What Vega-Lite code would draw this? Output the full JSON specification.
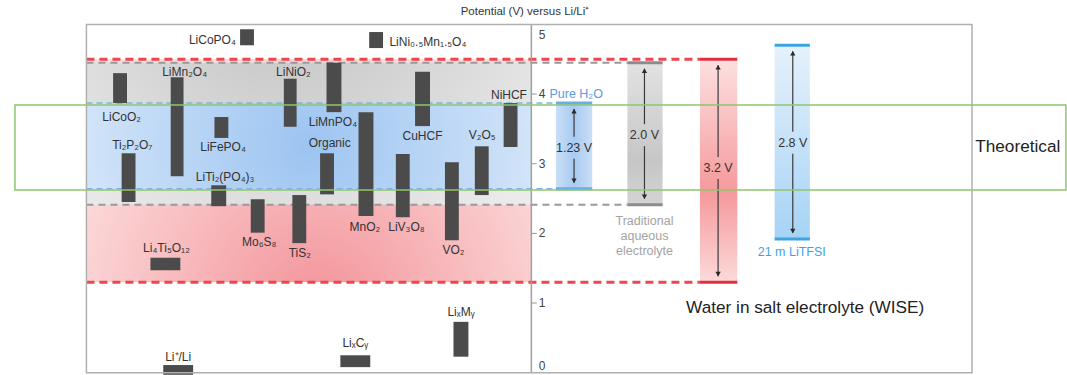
{
"$schema": "https://vega.github.io/schema/vega-lite/v6.json",
"width": 1067, "height": 375, "padding": 0, "autosize": {"type": "none"},
"background": "white",
"config": {"view": {"stroke": null}, "font": "Liberation Sans"},
"datasets": {
 "materials": [
  {"m":"LiCoPO₄","x0":22.5,"x1":23.8,"lo":4.70,"hi":4.93,"lx":19.9,"ly":4.78},
  {"m":"LiNi₀.₅Mn₁.₅O₄","x0":34.6,"x1":35.9,"lo":4.66,"hi":4.89,"lx":40.1,"ly":4.75},
  {"m":"LiCoO₂","x0":10.6,"x1":11.9,"lo":3.87,"hi":4.30,"lx":11.4,"ly":3.67},
  {"m":"LiMn₂O₄","x0":16.0,"x1":17.2,"lo":2.82,"hi":4.24,"lx":17.3,"ly":4.32},
  {"m":"LiNiO₂","x0":26.6,"x1":27.8,"lo":3.53,"hi":4.22,"lx":27.5,"ly":4.32},
  {"m":"LiMnPO₄","x0":30.6,"x1":32.0,"lo":3.74,"hi":4.45,"lx":31.2,"ly":3.60},
  {"m":"CuHCF","x0":38.9,"x1":40.3,"lo":3.54,"hi":4.32,"lx":39.6,"ly":3.40},
  {"m":"NiHCF","x0":47.2,"x1":48.5,"lo":3.24,"hi":3.87,"lx":47.7,"ly":3.99},
  {"m":"LiFePO₄","x0":20.1,"x1":21.4,"lo":3.37,"hi":3.67,"lx":20.9,"ly":3.24},
  {"m":"Ti₂P₂O₇","x0":11.4,"x1":12.7,"lo":2.45,"hi":3.15,"lx":12.4,"ly":3.27},
  {"m":"LiTi₂(PO₄)₃","x0":19.8,"x1":21.2,"lo":2.39,"hi":2.69,"lx":21.1,"ly":2.81},
  {"m":"Organic","x0":30.0,"x1":31.3,"lo":2.56,"hi":3.15,"lx":30.9,"ly":3.30},
  {"m":"MnO₂","x0":33.6,"x1":35.0,"lo":2.25,"hi":3.74,"lx":34.2,"ly":2.09},
  {"m":"LiV₃O₈","x0":37.1,"x1":38.4,"lo":2.23,"hi":3.14,"lx":38.1,"ly":2.09},
  {"m":"VO₂","x0":41.7,"x1":43.0,"lo":1.90,"hi":3.02,"lx":42.5,"ly":1.76},
  {"m":"V₂O₅","x0":44.5,"x1":45.8,"lo":2.55,"hi":3.25,"lx":45.2,"ly":3.41},
  {"m":"Mo₆S₈","x0":23.5,"x1":24.8,"lo":2.01,"hi":2.49,"lx":24.3,"ly":1.88},
  {"m":"TiS₂","x0":27.4,"x1":28.7,"lo":1.86,"hi":2.55,"lx":28.1,"ly":1.72},
  {"m":"Li₄Ti₅O₁₂","x0":14.1,"x1":16.9,"lo":1.47,"hi":1.65,"lx":15.6,"ly":1.79},
  {"m":"Li⁺/Li","x0":15.3,"x1":18.1,"lo":-0.03,"hi":0.11,"lx":16.7,"ly":0.22},
  {"m":"LiₓCᵧ","x0":31.9,"x1":34.7,"lo":0.08,"hi":0.25,"lx":33.3,"ly":0.43},
  {"m":"LiₓMᵧ","x0":42.5,"x1":43.9,"lo":0.23,"hi":0.73,"lx":43.2,"ly":0.87}
 ],
 "windows": [
  {"w":"Pure","xa":52.1,"xb":55.5,"xc":53.8,"lo":2.64,"hi":3.87,"mid":3.23,"gap":"1.23 V"},
  {"w":"Traditional","xa":58.8,"xb":62.1,"xc":60.4,"lo":2.41,"hi":4.45,"mid":3.41,"gap":"2.0 V"},
  {"w":"WISE","xa":65.6,"xb":69.1,"xc":67.3,"lo":1.30,"hi":4.50,"mid":2.94,"gap":"3.2 V"},
  {"w":"LiTFSI","xa":72.6,"xb":75.9,"xc":74.3,"lo":1.92,"hi":4.70,"mid":3.30,"gap":"2.8 V"}
 ],
 "bands": [
  {"w":"WISE","x0":8.1,"x1":49.8,"lo":1.30,"hi":4.50},
  {"w":"Traditional","x0":8.1,"x1":49.8,"lo":2.41,"hi":4.45},
  {"w":"Pure","x0":8.1,"x1":49.8,"lo":2.64,"hi":3.87}
 ],
 "limits": [
  {"w":"WISE","x0":8.1,"x1":65.6,"v":4.50},
  {"w":"WISE","x0":8.1,"x1":65.6,"v":1.30},
  {"w":"Traditional","x0":8.1,"x1":58.8,"v":4.45},
  {"w":"Traditional","x0":8.1,"x1":58.8,"v":2.41},
  {"w":"Pure","x0":8.1,"x1":52.1,"v":3.87},
  {"w":"Pure","x0":8.1,"x1":52.1,"v":2.64}
 ],
 "captions": [
  {"w":"Pure","c":"Pure H₂O","cx":54.0,"cy":4.0},
  {"w":"Traditional","c":["Traditional","aqueous","electrolyte"],"cx":60.4,"cy":2.18},
  {"w":"LiTFSI","c":"21 m LiTFSI","cx":74.2,"cy":1.73}
 ],
 "frame": [{"x0":8.1,"x1":91.1,"lo":0,"hi":5,"ax":49.8}],
 "ticks": [
  {"t":"1","v":1,"x0":49.85,"x1":50.3,"lx":50.5},
  {"t":"2","v":2,"x0":49.85,"x1":50.3,"lx":50.5},
  {"t":"3","v":3,"x0":49.85,"x1":50.3,"lx":50.5},
  {"t":"4","v":4,"x0":49.85,"x1":50.3,"lx":50.5}
 ],
 "box": [{"x0":1.4,"x1":99.9,"lo":2.622,"hi":3.842}],
 "notes": [
  {"t":"Potential (V) versus Li/Li⁺","x":49.2,"v":5.18,"k":"title"},
  {"t":"5","x":50.5,"v":4.85,"k":"tick"},
  {"t":"0","x":50.5,"v":0.09,"k":"tick"},
  {"t":"Theoretical","x":91.4,"v":3.24,"k":"note"},
  {"t":"Water in salt electrolyte (WISE)","x":64.3,"v":0.93,"k":"note"}
 ]
},
"layer": [
 {"data":{"name":"bands"},"transform":[{"filter":"datum.w==='WISE'"}],
  "mark":{"type":"rect","fill":{"gradient":"radial","x1":0.52,"y1":0.8,"x2":0.52,"y2":0.8,"r1":0,"r2":0.6,"stops":[{"offset":0,"color":"#f3949a"},{"offset":1,"color":"#fcdcdc"}]}},
  "encoding":{"x":{"field":"x0","type":"quantitative","scale":{"domain":[0,100],"nice":false,"zero":false},"axis":null},"x2":{"field":"x1"},
   "y":{"field":"hi","type":"quantitative","scale":{"domain":[-0.033,5.35],"nice":false,"zero":false},"axis":null},"y2":{"field":"lo"}}},
 {"data":{"name":"bands"},"transform":[{"filter":"datum.w==='Traditional'"}],
  "mark":{"type":"rect","fill":{"gradient":"radial","x1":0.45,"y1":0.15,"x2":0.45,"y2":0.15,"r1":0,"r2":0.7,"stops":[{"offset":0,"color":"#c0c0c0"},{"offset":1,"color":"#ebebeb"}]}},
  "encoding":{"x":{"field":"x0","type":"quantitative","axis":null},"x2":{"field":"x1"},"y":{"field":"hi","type":"quantitative","axis":null},"y2":{"field":"lo"}}},
 {"data":{"name":"bands"},"transform":[{"filter":"datum.w==='Pure'"}],
  "mark":{"type":"rect","fill":{"gradient":"radial","x1":0.5,"y1":0.5,"x2":0.5,"y2":0.5,"r1":0,"r2":0.65,"stops":[{"offset":0,"color":"#9cc4f1"},{"offset":1,"color":"#e1edfa"}]}},
  "encoding":{"x":{"field":"x0","type":"quantitative","axis":null},"x2":{"field":"x1"},"y":{"field":"hi","type":"quantitative","axis":null},"y2":{"field":"lo"}}},
 {"data":{"name":"windows"},"transform":[{"filter":"datum.w==='Pure'"}],
  "mark":{"type":"rect","fill":{"gradient":"linear","x1":0,"y1":0,"x2":1,"y2":0,"stops":[{"offset":0,"color":"#c9dff6"},{"offset":0.5,"color":"#a8caf1"},{"offset":1,"color":"#c9dff6"}]}},
  "encoding":{"x":{"field":"xa","type":"quantitative","axis":null},"x2":{"field":"xb"},"y":{"field":"hi","type":"quantitative","axis":null},"y2":{"field":"lo"}}},
 {"data":{"name":"windows"},"transform":[{"filter":"datum.w==='Traditional'"}],
  "mark":{"type":"rect","fill":{"gradient":"linear","x1":0,"y1":0,"x2":0,"y2":1,"stops":[{"offset":0,"color":"#e2e2e2"},{"offset":0.7,"color":"#c6c6c6"},{"offset":1,"color":"#d4d4d4"}]}},
  "encoding":{"x":{"field":"xa","type":"quantitative","axis":null},"x2":{"field":"xb"},"y":{"field":"hi","type":"quantitative","axis":null},"y2":{"field":"lo"}}},
 {"data":{"name":"windows"},"transform":[{"filter":"datum.w==='WISE'"}],
  "mark":{"type":"rect","fill":{"gradient":"linear","x1":0,"y1":0,"x2":0,"y2":1,"stops":[{"offset":0,"color":"#fde0e0"},{"offset":0.6,"color":"#f5999c"},{"offset":1,"color":"#fcdada"}]}},
  "encoding":{"x":{"field":"xa","type":"quantitative","axis":null},"x2":{"field":"xb"},"y":{"field":"hi","type":"quantitative","axis":null},"y2":{"field":"lo"}}},
 {"data":{"name":"windows"},"transform":[{"filter":"datum.w==='LiTFSI'"}],
  "mark":{"type":"rect","fill":{"gradient":"linear","x1":0,"y1":0,"x2":0,"y2":1,"stops":[{"offset":0,"color":"#e6f1fb"},{"offset":1,"color":"#a6d3f5"}]}},
  "encoding":{"x":{"field":"xa","type":"quantitative","axis":null},"x2":{"field":"xb"},"y":{"field":"hi","type":"quantitative","axis":null},"y2":{"field":"lo"}}},
 {"data":{"name":"limits"},"transform":[{"filter":"datum.w==='Pure'"}],
  "mark":{"type":"rule","strokeDash":[6,4],"stroke":"#7fb3e6","strokeWidth":1.5},
  "encoding":{"x":{"field":"x0","type":"quantitative","axis":null},"x2":{"field":"x1"},"y":{"field":"v","type":"quantitative","axis":null}}},
 {"data":{"name":"limits"},"transform":[{"filter":"datum.w==='Traditional'"}],
  "mark":{"type":"rule","strokeDash":[7,5],"stroke":"#999999","strokeWidth":2},
  "encoding":{"x":{"field":"x0","type":"quantitative","axis":null},"x2":{"field":"x1"},"y":{"field":"v","type":"quantitative","axis":null}}},
 {"data":{"name":"limits"},"transform":[{"filter":"datum.w==='WISE'"}],
  "mark":{"type":"rule","strokeDash":[8,5],"stroke":"#ee4650","strokeWidth":3},
  "encoding":{"x":{"field":"x0","type":"quantitative","axis":null},"x2":{"field":"x1"},"y":{"field":"v","type":"quantitative","axis":null}}},
 {"data":{"name":"windows"},"mark":{"type":"rule","strokeWidth":3},
  "encoding":{"x":{"field":"xa","type":"quantitative","axis":null},"x2":{"field":"xb"},"y":{"field":"hi","type":"quantitative","axis":null},
   "stroke":{"field":"w","type":"nominal","scale":{"domain":["Pure","Traditional","WISE","LiTFSI"],"range":["#6aaee8","#8c8c8c","#e2313c","#3ea3e3"]},"legend":null}}},
 {"data":{"name":"windows"},"mark":{"type":"rule","strokeWidth":3},
  "encoding":{"x":{"field":"xa","type":"quantitative","axis":null},"x2":{"field":"xb"},"y":{"field":"lo","type":"quantitative","axis":null},
   "stroke":{"field":"w","type":"nominal","legend":null}}},
 {"data":{"name":"materials"},"mark":{"type":"rect","fill":"#4b4b4b"},
  "encoding":{"x":{"field":"x0","type":"quantitative","axis":null},"x2":{"field":"x1"},"y":{"field":"hi","type":"quantitative","axis":null},"y2":{"field":"lo"}}},
 {"data":{"name":"materials"},"mark":{"type":"text","fontSize":12,"fill":"#333333","align":"center","baseline":"middle"},
  "encoding":{"x":{"field":"lx","type":"quantitative","axis":null},"y":{"field":"ly","type":"quantitative","axis":null},"text":{"field":"m","type":"nominal"}}},
 {"data":{"name":"frame"},"mark":{"type":"rule","stroke":"#a0a0a0","strokeWidth":1.5},
  "encoding":{"x":{"field":"ax","type":"quantitative","axis":null},"y":{"field":"lo","type":"quantitative","axis":null},"y2":{"field":"hi"}}},
 {"data":{"name":"frame"},"mark":{"type":"rect","fill":"white","fillOpacity":0,"stroke":"#b0b0b0","strokeWidth":1.5},
  "encoding":{"x":{"field":"x0","type":"quantitative","axis":null},"x2":{"field":"x1"},"y":{"field":"lo","type":"quantitative","axis":null},"y2":{"field":"hi"}}},
 {"data":{"name":"ticks"},"mark":{"type":"rule","stroke":"#999999","strokeWidth":1},
  "encoding":{"x":{"field":"x0","type":"quantitative","axis":null},"x2":{"field":"x1"},"y":{"field":"v","type":"quantitative","axis":null}}},
 {"data":{"name":"ticks"},"mark":{"type":"text","fontSize":12,"fill":"#444444","align":"left","baseline":"middle"},
  "encoding":{"x":{"field":"lx","type":"quantitative","axis":null},"y":{"field":"v","type":"quantitative","axis":null},"text":{"field":"t","type":"nominal"}}},
 {"data":{"name":"windows"},"mark":{"type":"rule","stroke":"#3a3a3a","strokeWidth":1.2,"yOffset":6,"y2Offset":-11},
  "encoding":{"x":{"field":"xc","type":"quantitative","axis":null},"y":{"field":"hi","type":"quantitative","axis":null},"y2":{"field":"mid"}}},
 {"data":{"name":"windows"},"mark":{"type":"rule","stroke":"#3a3a3a","strokeWidth":1.2,"yOffset":11,"y2Offset":-6},
  "encoding":{"x":{"field":"xc","type":"quantitative","axis":null},"y":{"field":"mid","type":"quantitative","axis":null},"y2":{"field":"lo"}}},
 {"data":{"name":"windows"},"mark":{"type":"point","shape":"triangle-up","filled":true,"fill":"#2a2a2a","opacity":1,"size":28,"yOffset":8},
  "encoding":{"x":{"field":"xc","type":"quantitative","axis":null},"y":{"field":"hi","type":"quantitative","axis":null}}},
 {"data":{"name":"windows"},"mark":{"type":"point","shape":"triangle-down","filled":true,"fill":"#2a2a2a","opacity":1,"size":28,"yOffset":-8},
  "encoding":{"x":{"field":"xc","type":"quantitative","axis":null},"y":{"field":"lo","type":"quantitative","axis":null}}},
 {"data":{"name":"windows"},"mark":{"type":"text","fontSize":12.5,"fill":"#333333","align":"center","baseline":"middle"},
  "encoding":{"x":{"field":"xc","type":"quantitative","axis":null},"y":{"field":"mid","type":"quantitative","axis":null},"text":{"field":"gap","type":"nominal"}}},
 {"data":{"name":"captions"},"mark":{"type":"text","fontSize":12.5,"align":"center","baseline":"middle","lineHeight":15},
  "encoding":{"x":{"field":"cx","type":"quantitative","axis":null},"y":{"field":"cy","type":"quantitative","axis":null},"text":{"field":"c","type":"nominal"},
   "fill":{"field":"w","type":"nominal","scale":{"domain":["Pure","Traditional","LiTFSI"],"range":["#5b9ae0","#a3a3a3","#3ea3e3"]},"legend":null}}},
 {"data":{"name":"box"},"mark":{"type":"rect","fill":"white","fillOpacity":0,"stroke":"#8dc66f","strokeWidth":1.5},
  "encoding":{"x":{"field":"x0","type":"quantitative","axis":null},"x2":{"field":"x1"},"y":{"field":"hi","type":"quantitative","axis":null},"y2":{"field":"lo"}}},
 {"data":{"name":"notes"},"transform":[{"filter":"datum.k==='title'"}],"mark":{"type":"text","fontSize":11.5,"fill":"#333333","align":"center","baseline":"middle"},
  "encoding":{"x":{"field":"x","type":"quantitative","axis":null},"y":{"field":"v","type":"quantitative","axis":null},"text":{"field":"t","type":"nominal"}}},
 {"data":{"name":"notes"},"transform":[{"filter":"datum.k==='tick'"}],"mark":{"type":"text","fontSize":12,"fill":"#444444","align":"left","baseline":"middle"},
  "encoding":{"x":{"field":"x","type":"quantitative","axis":null},"y":{"field":"v","type":"quantitative","axis":null},"text":{"field":"t","type":"nominal"}}},
 {"data":{"name":"notes"},"transform":[{"filter":"datum.k==='note'"}],"mark":{"type":"text","fontSize":17.2,"fill":"#222222","align":"left","baseline":"middle"},
  "encoding":{"x":{"field":"x","type":"quantitative","axis":null},"y":{"field":"v","type":"quantitative","axis":null},"text":{"field":"t","type":"nominal"}}}
]
}
